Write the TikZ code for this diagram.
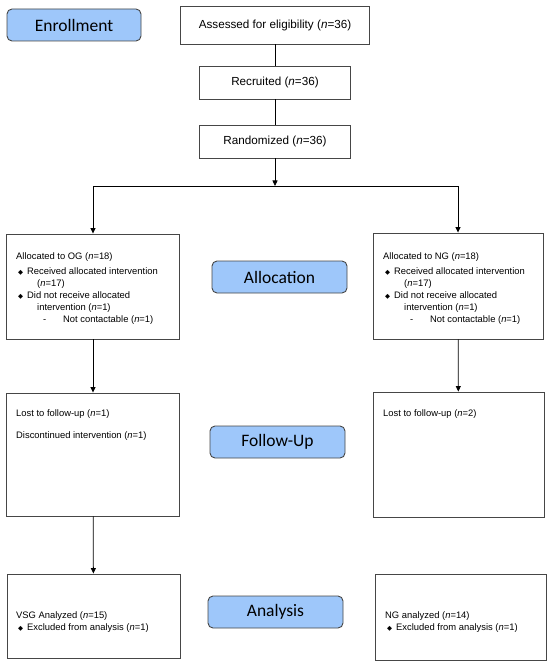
\documentclass[tikz,border=0pt]{standalone}
\usepackage{fontspec}
\setmainfont{Liberation Sans}
\newfontfamily\phasefont{Carlito}
\newfontfamily\dejavufont{DejaVu Sans}
\usetikzlibrary{arrows.meta}
\definecolor{phaseblue}{RGB}{158,199,250}
\definecolor{framegray}{RGB}{70,70,70}
\newcommand{\bul}{{\dejavufont\fontsize{6.5}{6.5}\selectfont ◆}}

\begin{document}
\begin{tikzpicture}[x=1pt, y=-1pt,
      phase/.style = {shape=rectangle, rounded corners=5pt, draw=framegray,
        fill=phaseblue, line width=0.9pt, minimum width=134pt,
        minimum height=32pt, font=\phasefont\fontsize{17.5}{20}\selectfont},
      stage/.style = {shape=rectangle, draw=framegray, line width=0.9pt,
        font=\fontsize{11.7}{14}\selectfont},
      sidebox/.style = {shape=rectangle, draw=framegray, line width=0.9pt},
      detail/.style = {anchor=north west, inner sep=0pt, align=left,
        font=\fontsize{9.4}{12}\selectfont},
      link/.style = {draw=black, line width=0.8pt},
      arrow/.style = {link, -{Triangle[length=5.5pt,width=5pt]}}]
  \useasboundingbox (0,0) rectangle (550,668);

  \node[phase] (enroll) at (74,25) {Enrollment};
  \node[phase, minimum width=135pt] (alloc) at (279.5,277) {Allocation};
  \node[phase, minimum width=135pt] (follow) at (277.5,442) {Follow-Up};
  \node[phase, minimum width=135pt] (analysis) at (275.5,612) {Analysis};

  \node[stage, minimum width=189pt, minimum height=38pt] (assess) at (275,25)
    {Assessed for eligibility (\textit{n}=36)};
  \node[stage, minimum width=151pt, minimum height=33pt] (recruit) at (275,82.5)
    {Recruited (\textit{n}=36)};
  \node[stage, minimum width=151pt, minimum height=33pt] (random) at (275,141.5)
    {Randomized (\textit{n}=36)};
  \coordinate (split) at (275,186);

  \node[sidebox, minimum width=173pt, minimum height=105pt] (og) at (93,286.5) {};
  \node[sidebox, minimum width=170pt, minimum height=106pt] (ng) at (458,286) {};
  \node[sidebox, minimum width=173pt, minimum height=123pt] (ogfu) at (93,454.5) {};
  \node[sidebox, minimum width=171pt, minimum height=125pt] (ngfu) at (458.5,454.5) {};
  \node[sidebox, minimum width=173pt, minimum height=84pt] (oga) at (93.5,616) {};
  \node[sidebox, minimum width=171pt, minimum height=86pt] (nga) at (460.5,617) {};

  \node[detail] (ogtext) at (16,252.5) {Allocated to OG (\textit{n}=18)\\[3pt]
    \hspace*{2pt}\makebox[9pt][l]{\bul}Received allocated intervention\\
    \hspace*{21pt}(\textit{n}=17)\\
    \hspace*{2pt}\makebox[9pt][l]{\bul}Did not receive allocated\\
    \hspace*{21pt}intervention (\textit{n}=1)\\
    \hspace*{27pt}\makebox[20pt][l]{-}Not contactable (\textit{n}=1)};
  \node[detail] (ngtext) at (383,252.5) {Allocated to NG (\textit{n}=18)\\[3pt]
    \hspace*{2pt}\makebox[9pt][l]{\bul}Received allocated intervention\\
    \hspace*{21pt}(\textit{n}=17)\\
    \hspace*{2pt}\makebox[9pt][l]{\bul}Did not receive allocated\\
    \hspace*{21pt}intervention (\textit{n}=1)\\
    \hspace*{27pt}\makebox[20pt][l]{-}Not contactable (\textit{n}=1)};
  \node[detail] (ogfutext) at (16,409.5) {Lost to follow-up (\textit{n}=1)\\[10pt]
    Discontinued intervention (\textit{n}=1)};
  \node[detail] (ngfutext) at (383,409.5) {Lost to follow-up (\textit{n}=2)};
  \node[detail] (ogatext) at (16,611.5) {VSG Analyzed (\textit{n}=15)\\
    \hspace*{2pt}\makebox[9pt][l]{\bul}Excluded from analysis (\textit{n}=1)};
  \node[detail] (ngatext) at (385,611.5) {NG analyzed (\textit{n}=14)\\
    \hspace*{2pt}\makebox[9pt][l]{\bul}Excluded from analysis (\textit{n}=1)};

  \draw[link] (assess) -- (recruit);
  \draw[link] (recruit) -- (random);
  \draw[arrow] (random) -- (split);
  \draw[arrow] (split) -| (og);
  \draw[arrow] (split) -| (ng);
  \draw[arrow] (og) -- (ogfu);
  \draw[arrow] (ng) -- (ngfu);
  \draw[arrow] (ogfu) -- (oga);
\end{tikzpicture}
\end{document}
